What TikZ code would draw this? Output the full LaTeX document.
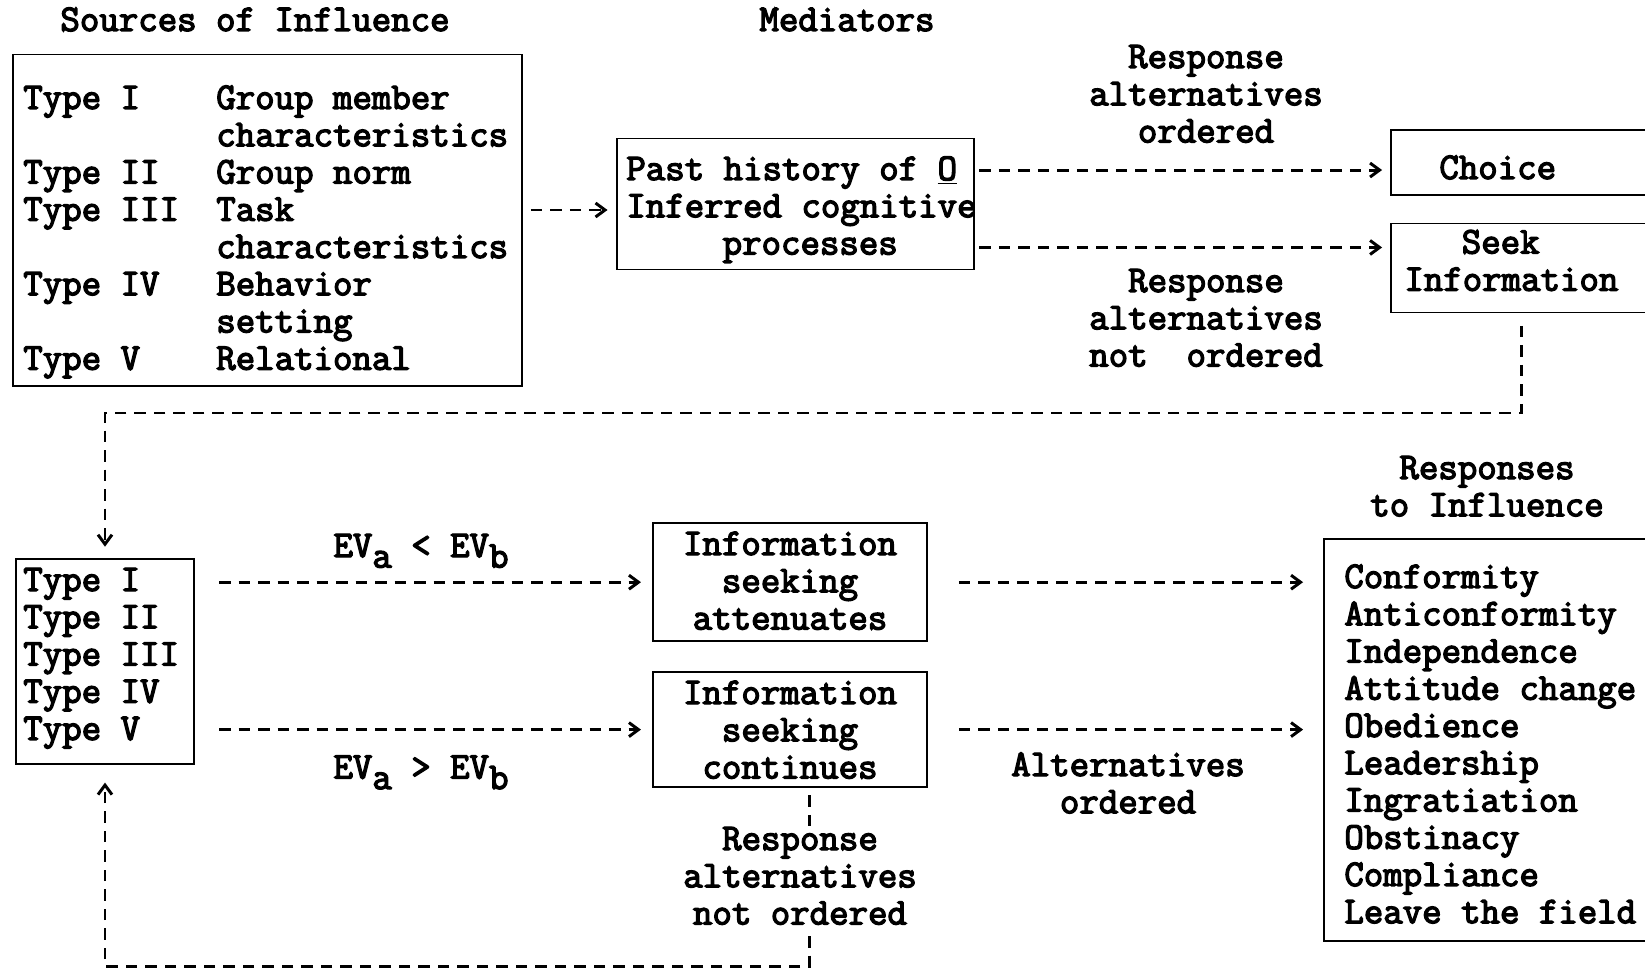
\documentclass[tikz,border=0pt]{standalone}
\usepackage{fontspec}
\setmonofont{Latin Modern Mono}[AutoFakeBold=3.5]
\usetikzlibrary{arrows.meta}

\newcommand\sublow[1]{\raisebox{-0.28em}{#1}}
\newcommand\lns[2][c]{\begin{tabular}[t]{@{}#1@{}}#2\end{tabular}}

\begin{document}
\begin{tikzpicture}[x=0.02cm,y=-0.02cm,
  txt/.style={font=\ttfamily\bfseries\fontsize{21.5}{21.2}\selectfont,inner sep=0pt},
  box/.style={draw,line width=1.1pt,inner sep=0pt},
  dsh/.style={line width=1.7pt,dash pattern=on 0.23cm off 0.16cm,
    -{Straight Barb[length=0.19cm,width=0.28cm]}}]
\useasboundingbox (0,0) rectangle (1645,969);
\clip (0,0) rectangle (1645,969);

% Headings
\node[txt,anchor=base] (h-src) at (255,31) {Sources of Influence};
\node[txt,anchor=base] (h-med) at (847,31) {Mediators};
\node[txt,anchor=base] (h-resp) at (1487,479) {\lns{Responses\\to Influence}};

% Boxes
\node[box,minimum width=10.2cm,minimum height=6.63cm] (src) at (267.5,220.2) {};
\node[box,minimum width=7.15cm,minimum height=2.62cm] (med) at (795.7,204) {};
\node[box,minimum width=5.78cm,minimum height=1.3cm] (choice) at (1535.5,162.5) {};
\node[box,minimum width=5.78cm,minimum height=1.78cm] (seek) at (1535.5,268) {};
\node[box,minimum width=3.57cm,minimum height=4.09cm] (types) at (105,661.4) {};
\node[box,minimum width=5.48cm,minimum height=2.35cm] (att) at (790.4,582.2) {};
\node[box,minimum width=5.48cm,minimum height=2.29cm] (cont) at (790.4,729.6) {};
\node[box,minimum width=7.12cm,minimum height=8.04cm] (resp) at (1502,740) {};

% Box texts
\node[txt,anchor=base west] (src-t) at (23,109) {\lns[p{3.86cm}@{}l]{Type I & Group member\\
  & characteristics\\ Type II & Group norm\\ Type III & Task\\ & characteristics\\
  Type IV & Behavior\\ & setting\\ Type V & Relational}};
\node[txt,anchor=base west] (med-t) at (626,180) {\lns[l]{Past history of \underline{O}\\
  Inferred cognitive\\ \hspace*{2.55em}processes}};
\node[txt,anchor=base west] (choice-t) at (1439,179) {Choice};
\node[txt,anchor=base west] (seek-t) at (1404,253.5) {\lns[l]{\hspace*{1.52em}Seek\\Information}};
\node[txt,anchor=base west] (types-t) at (23,591) {\lns[l]{Type I\\Type II\\Type III\\Type IV\\Type V}};
\node[txt,anchor=base] (att-t) at (790,555) {\lns{Information\\seeking\\attenuates}};
\node[txt,anchor=base] (cont-t) at (790,704) {\lns{Information\\seeking\\continues}};
\node[txt,anchor=base west] (resp-t) at (1344,588) {\lns[l]{Conformity\\Anticonformity\\
  Independence\\Attitude change\\Obedience\\Leadership\\Ingratiation\\Obstinacy\\
  Compliance\\Leave the field}};

% Connector labels
\node[txt,anchor=base] (ord-l) at (1206,68) {\lns{Response\\alternatives\\ordered}};
\node[txt,anchor=base] (nord-l) at (1206,292) {\lns{Response\\alternatives\\not\ \ ordered}};
\node[txt,anchor=base] (ev-lt) at (421,557) {EV\sublow{a} < EV\sublow{b}};
\node[txt,anchor=base] (ev-gt) at (421,778.5) {EV\sublow{a} > EV\sublow{b}};
\node[txt,anchor=base] (alt-l) at (1128,776) {\lns{Alternatives\\ordered}};
\node[txt,anchor=base] (rnote) at (800,850) {\lns{Response\\alternatives\\not ordered}};

% Upper flow
\draw[dsh,shorten <=0.15cm,shorten >=0.17cm] ([yshift=-0.12cm]med.west -| src.east) -- ([yshift=-0.12cm]med.west);
\draw[dsh,shorten <=0.08cm,shorten >=0.16cm] ([yshift=-0.65cm]med.north east) coordinate (m1) -- (m1 -| choice.west);
\draw[dsh,shorten <=0.08cm,shorten >=0.16cm] ([yshift=0.46cm]med.south east) coordinate (m2) -- (m2 -| seek.west);

% Loop back to the types
\coordinate (up) at (1521,413);
\draw[dsh,shorten <=0.25cm,shorten >=0.23cm] (seek.south -| up) -- (up) -| (types.north);
\coordinate (down) at (809,966);
\draw[dsh,-,shorten <=0.15cm,shorten >=-0.1cm] (cont.south -| down) -- (down |- rnote.north);
\draw[dsh,shorten >=0.36cm] (down |- rnote.south) -- (down) -| (types.south);

% Lower flow
\draw[dsh,shorten <=0.48cm,shorten >=0.23cm] (types.east |- att) -- (att.west);
\draw[dsh,shorten <=0.48cm,shorten >=0.23cm] (types.east |- cont) -- (cont.west);
\draw[dsh,shorten <=0.61cm,shorten >=0.4cm] (att.east) -- (att.east -| resp.west);
\draw[dsh,shorten <=0.61cm,shorten >=0.4cm] (cont.east) -- (cont.east -| resp.west);
\end{tikzpicture}
\end{document}
